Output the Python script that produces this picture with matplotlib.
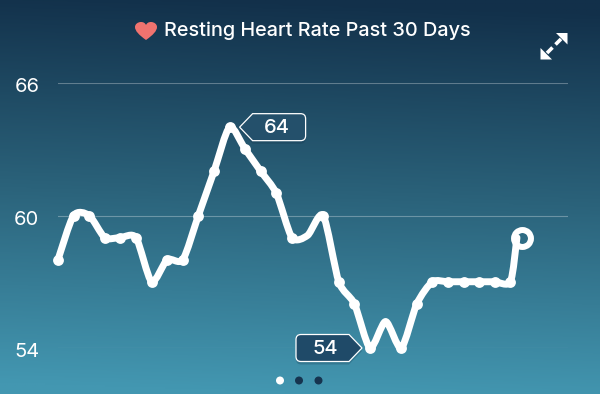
import numpy as np
from matplotlib import pyplot as plt
from matplotlib.colors import LinearSegmentedColormap
from matplotlib.patches import Circle, PathPatch, Polygon
from matplotlib.path import Path
from matplotlib.transforms import ScaledTranslation

# day 16 and day 21 have no reading of their own, the line just passes there
days = list(range(30)) + [29.42]
rates = [58, 60, 60, 59, 59, 59, 57, 58, 58, 60, 62, 64, 63, 62, 61, 59, 59.1, 60,
         57, 56, 54, 55.2, 54, 56, 57, 57, 57, 57, 57, 57, 59]
no_dot = [16, 21]
y_ticks = [54, 60, 66]
title = 'Resting Heart Rate Past 30 Days'
low_day, low_rate = 20, 54
high_day, high_rate = 11, 64
ring_day, ring_rate = 29.74, 59

plt.rcParams['font.family'] = ['Inter', 'DejaVu Sans']


def smooth_path(xs, ys):
    # catmull-rom through the readings, written as bezier segments
    pts = np.column_stack([xs, ys])
    verts = [pts[0]]
    codes = [Path.MOVETO]
    for i in range(len(pts) - 1):
        p0 = pts[max(i - 1, 0)]
        p1 = pts[i]
        p2 = pts[i + 1]
        p3 = pts[min(i + 2, len(pts) - 1)]
        verts += [p1 + (p2 - p0) / 8, p2 - (p3 - p1) / 8, p2]
        codes += [Path.CURVE4] * 3
    return Path(verts, codes)


def to_pixels(ax, x, y):
    px, py = ax.transData.transform((x, y))
    return px, 394 - py


def tag(over, tip_x, tip_y, direction, text, face):
    # flag with a pointed end at the tip and rounded corners at the far end
    h = 13.5
    length = 66
    r = 5
    d = direction
    verts = [(tip_x, tip_y), (tip_x + d * 13, tip_y - h),
             (tip_x + d * (length - r), tip_y - h), (tip_x + d * length, tip_y - h),
             (tip_x + d * length, tip_y - h + r), (tip_x + d * length, tip_y + h - r),
             (tip_x + d * length, tip_y + h), (tip_x + d * (length - r), tip_y + h),
             (tip_x + d * 13, tip_y + h), (tip_x, tip_y)]
    codes = [Path.MOVETO, Path.LINETO, Path.LINETO, Path.CURVE3, Path.CURVE3, Path.LINETO,
             Path.CURVE3, Path.CURVE3, Path.LINETO, Path.CLOSEPOLY]
    path = Path(verts, codes)
    shadow = Path(np.array(verts) + [0, 3], codes)
    over.add_patch(PathPatch(shadow, fc='#0c2a40', ec='none', alpha=0.22, zorder=4))
    over.add_patch(PathPatch(path, fc=face, ec='white', lw=0.9, joinstyle='miter', zorder=5))
    over.text(tip_x + d * 37, tip_y + 0.5, text, color='white', fontsize=14.5, ha='center',
              va='center', weight='medium', zorder=6)


fig = plt.figure(figsize=(6.0, 3.94), dpi=100)

bg = fig.add_axes([0, 0, 1, 1], zorder=0)
cmap = LinearSegmentedColormap.from_list('bg', ['#12304a', '#2b637b', '#4397b1'])
xx, yy = np.meshgrid(np.linspace(0, 1, 60), np.linspace(0, 1, 200))
bg.imshow(yy + 0.05 * (1 - xx) - 0.025, cmap=cmap, aspect='auto', vmin=0, vmax=1)
bg.axis('off')

ax = fig.add_axes([58 / 600, 1 - 348 / 394, 510 / 600, 265 / 394], zorder=1)
ax.patch.set_alpha(0)
ax.set_xlim(0, 510 / 15.6)
ax.set_ylim(54, 66)
for side in ax.spines.values():
    side.set_visible(False)
ax.set_xticks([])
ax.set_yticks(y_ticks)
ax.tick_params(axis='y', length=0, pad=13.5, labelsize=14.5, labelcolor='white')
down = ScaledTranslation(0, -1.5 / 72, fig.dpi_scale_trans)
for label in ax.get_yticklabels():
    label.set_transform(label.get_transform() + down)
ax.grid(axis='y', color='white', alpha=0.3, lw=0.8)

ax.add_patch(PathPatch(smooth_path(days, rates), fc='none', ec='white', lw=5.0,
                       capstyle='round', joinstyle='round', clip_on=False, zorder=3))
dot_x = [d for i, d in enumerate(days[:-1]) if i not in no_dot]
dot_y = [r for i, r in enumerate(rates[:-1]) if i not in no_dot]
ax.plot(dot_x, dot_y, 'o', color='white', ms=7.8, mew=0, clip_on=False, zorder=3)
ax.plot([ring_day], [ring_rate], 'o', mfc='none', mec='white', ms=12.2, mew=4.3,
        clip_on=False, zorder=3)

over = fig.add_axes([0, 0, 1, 1], zorder=2)
over.set_xlim(0, 600)
over.set_ylim(394, 0)
over.axis('off')

hx, hy = to_pixels(ax, high_day, high_rate)
tag(over, hx + 10, hy, 1, str(high_rate), '#24506b')
lx, ly = to_pixels(ax, low_day, low_rate)
tag(over, lx - 8, ly, -1, str(low_rate), '#1f4a68')

# heart
heart = Path([(146, 40), (139, 35), (135, 31), (135, 27), (135, 24), (138, 22), (141, 22),
              (143.5, 22), (145, 23), (146, 25), (147, 23), (148.5, 22), (151, 22),
              (154, 22), (157, 24), (157, 27), (157, 31), (153, 35), (146, 40), (146, 40)],
             [Path.MOVETO] + [Path.CURVE4] * 18 + [Path.CLOSEPOLY])
over.add_patch(PathPatch(heart, fc='#f0736f', ec='none'))
over.text(164, 31, title, color='white', fontsize=14.3, ha='left', va='center', weight='medium')

# expand icon
over.add_patch(Polygon([(567.5, 33), (556, 33), (567.5, 44.5)], fc='white', ec='none'))
over.add_patch(Polygon([(540.5, 59.5), (552, 59.5), (540.5, 48)], fc='white', ec='none'))
over.plot([561, 555.5], [39, 44.5], color='white', lw=2.6, solid_capstyle='butt')
over.plot([547, 552.5], [53, 47.5], color='white', lw=2.6, solid_capstyle='butt')

# page dots
over.add_patch(Circle((280, 380.5), 4, fc='white', ec='none'))
over.add_patch(Circle((299, 380.5), 4, fc='#16344f', ec='none'))
over.add_patch(Circle((318.5, 380.5), 4, fc='#16344f', ec='none'))

fig.savefig('out.png', dpi=100)
